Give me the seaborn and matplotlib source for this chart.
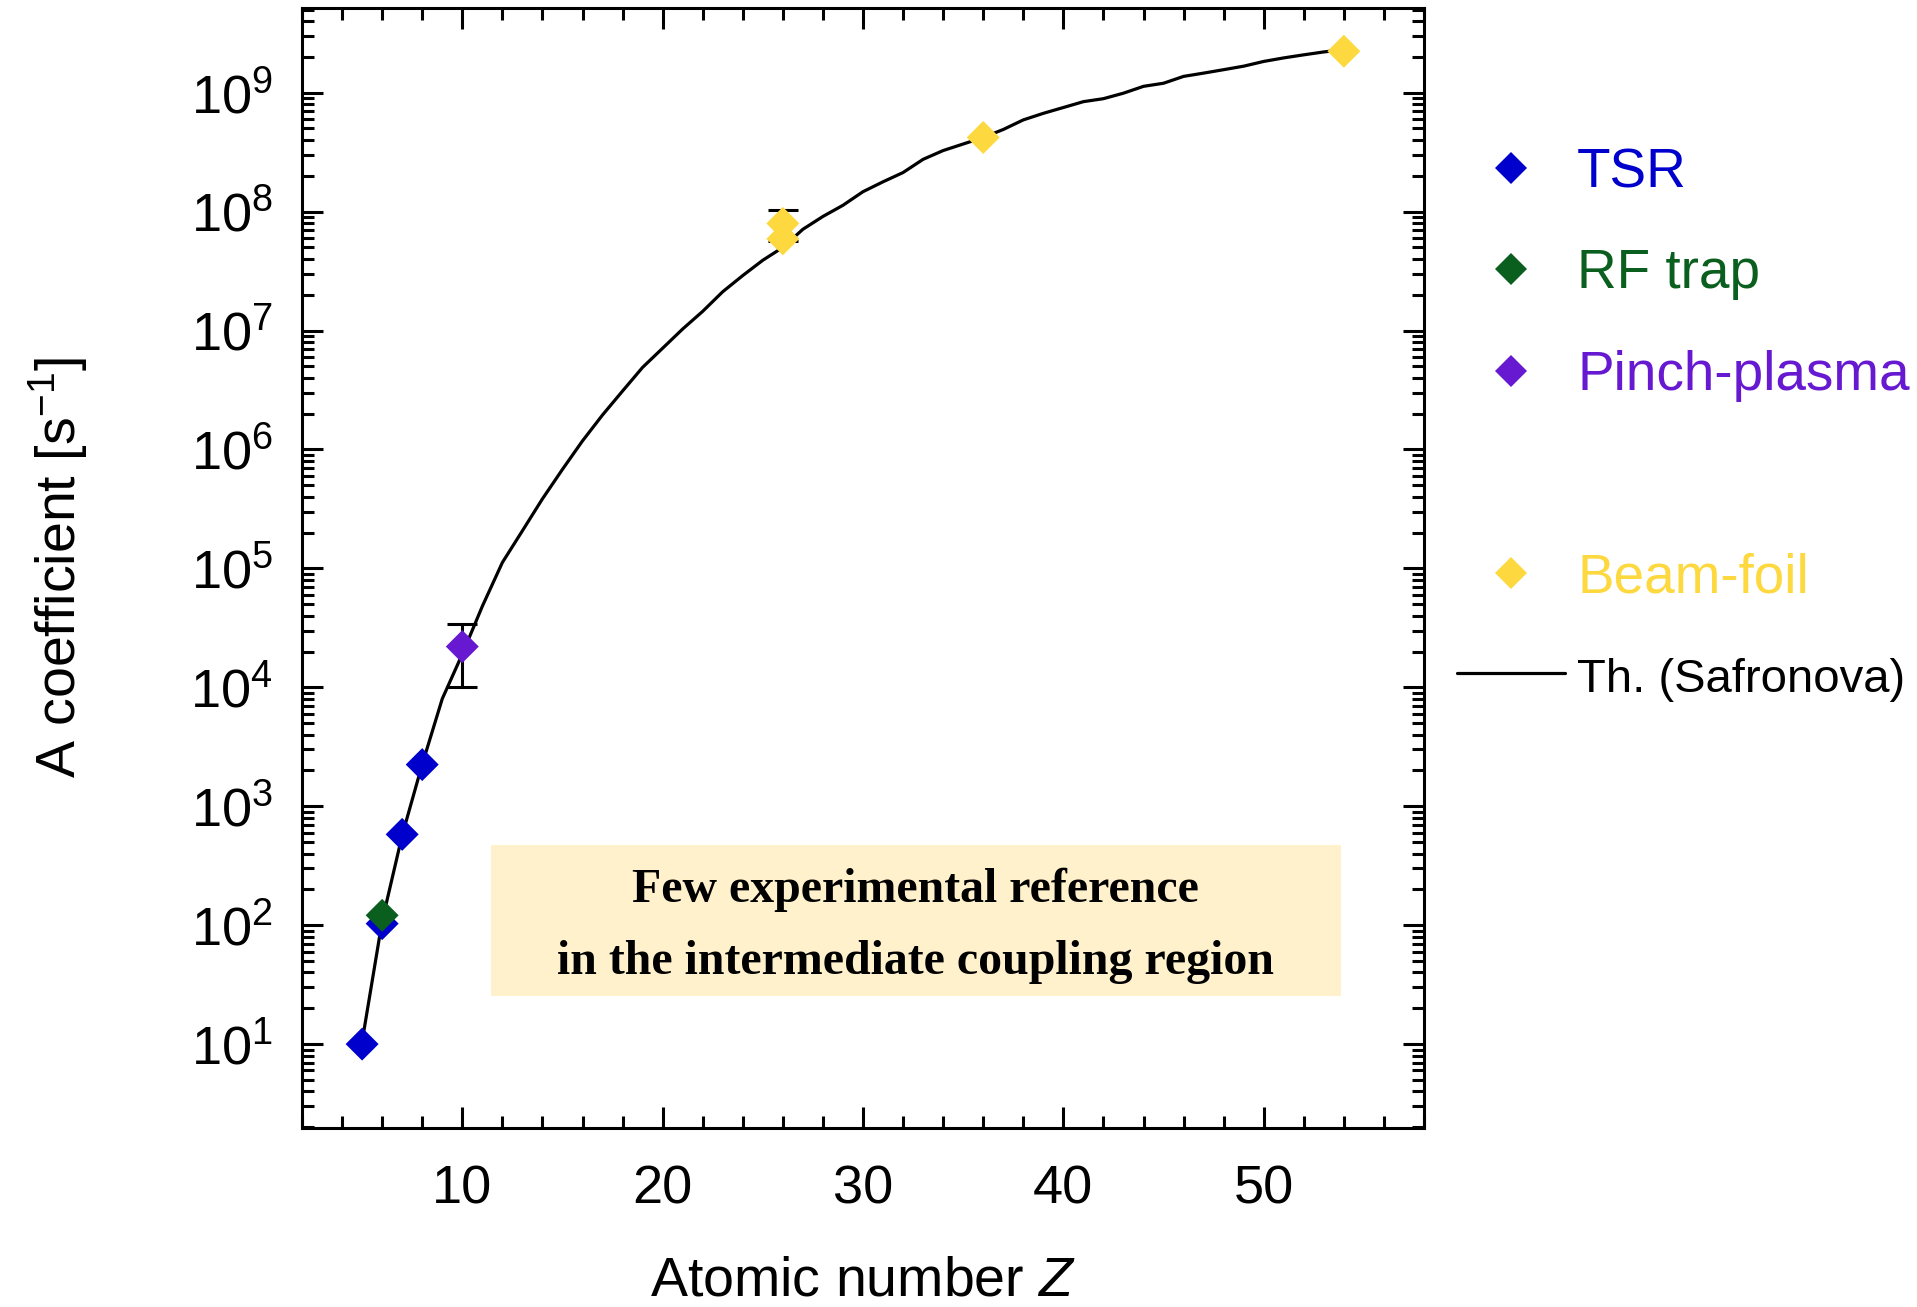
import matplotlib
matplotlib.use("Agg")
import matplotlib.pyplot as plt
import seaborn as sns
import pandas as pd
from matplotlib.lines import Line2D
from matplotlib.patches import Rectangle
from matplotlib.ticker import MultipleLocator, LogLocator, NullFormatter

# ---------------- data ----------------
theory_Z = list(range(5, 55))
theory_A = [10.5, 108, 570, 2250, 8.0e3, 1.9e4, 4.8e4, 1.12e5, 2.07e5, 3.84e5,
            6.8e5, 1.18e6, 1.95e6, 3.1e6, 4.9e6, 7.1e6, 1.03e7, 1.45e7, 2.12e7, 2.9e7,
            3.9e7, 5.0e7, 7.1e7, 9.1e7, 1.13e8, 1.47e8, 1.78e8, 2.13e8, 2.75e8, 3.26e8,
            3.7e8, 4.2e8, 4.9e8, 5.9e8, 6.7e8, 7.5e8, 8.4e8, 8.9e8, 9.9e8, 1.13e9,
            1.2e9, 1.37e9, 1.46e9, 1.56e9, 1.67e9, 1.83e9, 1.96e9, 2.08e9, 2.2e9, 2.3e9]

tsr_Z = [5, 6, 7, 8]
tsr_A = [10.0, 103, 580, 2240]

rf_Z = [6]
rf_A = [121]

pinch_Z = [10]
pinch_A = [2.2e4]
pinch_err = [1.2e4]

beam_Z = [26, 26, 36, 54]
beam_A = [7.95e7, 5.9e7, 4.2e8, 2.23e9]
beam_err = [2.3e7, 0, 0, 0]

methods = ["TSR", "RF trap", "Pinch-plasma", "Beam-foil"]
colors = {"TSR": "#0000CC", "RF trap": "#0A5F1E", "Pinch-plasma": "#6619D1", "Beam-foil": "#FDD83F"}
theory_label = "Th. (Safronova)"

xlabel_text = "Atomic number $Z$"
ylabel_text = "A coefficient [s$^{-1}$]"
note_lines = ["Few experimental reference", "in the intermediate coupling region"]

# ---------------- style ----------------
sns.set_theme(style="ticks")
plt.rcParams["font.family"] = ["Liberation Sans", "DejaVu Sans"]
plt.rcParams["mathtext.fontset"] = "custom"
plt.rcParams["mathtext.rm"] = "Liberation Sans"
plt.rcParams["mathtext.it"] = "Liberation Sans:italic"
plt.rcParams["mathtext.bf"] = "Liberation Sans:bold"
plt.rcParams["axes.linewidth"] = 2.2
plt.rcParams["text.color"] = "black"
plt.rcParams["axes.labelcolor"] = "black"
plt.rcParams["xtick.color"] = "black"
plt.rcParams["ytick.color"] = "black"
plt.rcParams["axes.edgecolor"] = "black"

fig = plt.figure(figsize=(19.17, 13.07), dpi=100)
ax = fig.add_axes([302 / 1917, 1 - 1128 / 1307, (1424 - 302) / 1917, (1128 - 7.5) / 1307])
ax.set_yscale("log")

df = pd.DataFrame({
    "Z": tsr_Z + rf_Z + pinch_Z + beam_Z,
    "A": tsr_A + rf_A + pinch_A + beam_A,
    "method": (["TSR"] * len(tsr_Z) + ["RF trap"] * len(rf_Z)
               + ["Pinch-plasma"] * len(pinch_Z) + ["Beam-foil"] * len(beam_Z)),
})

sns.lineplot(x=theory_Z, y=theory_A, color="black", linewidth=2.3, ax=ax, zorder=2)

# error bars
ax.errorbar(pinch_Z, pinch_A, yerr=pinch_err, fmt="none", ecolor="black",
            elinewidth=2.2, capsize=11, capthick=2.2, zorder=3)
bz = [z for z, e in zip(beam_Z, beam_err) if e > 0]
ba = [a for a, e in zip(beam_A, beam_err) if e > 0]
be = [e for e in beam_err if e > 0]
ax.errorbar(bz, ba, yerr=be, fmt="none", ecolor="black",
            elinewidth=2.2, capsize=11, capthick=2.2, zorder=3)

sns.scatterplot(data=df, x="Z", y="A", hue="method", hue_order=methods,
                palette=colors, marker="D", s=282, linewidth=0, legend=False,
                ax=ax, zorder=4)

ax.set_xlim(2, 58)
ax.set_ylim(1.97, 5.2e9)
ax.xaxis.set_major_locator(MultipleLocator(10))
ax.xaxis.set_minor_locator(MultipleLocator(2))
ax.yaxis.set_major_locator(LogLocator(base=10, numticks=20))
ax.yaxis.set_minor_locator(LogLocator(base=10, subs=[2, 3, 4, 5, 6, 7, 8, 9], numticks=20))
ax.yaxis.set_minor_formatter(NullFormatter())

ax.tick_params(which="both", direction="in", top=True, right=True, width=2.2,
               color="black", labelcolor="black")
ax.tick_params(which="major", length=15)
ax.tick_params(which="minor", length=8.5)
ax.tick_params(axis="x", which="major", labelsize=39, pad=26)
ax.tick_params(axis="y", which="major", labelsize=39, pad=21)
for s in ax.spines.values():
    s.set_color("black")
    s.set_linewidth(2.2)

ax.set_xlabel(xlabel_text, fontsize=40, color="black")
ax.set_ylabel(ylabel_text, fontsize=40, color="black")
ax.xaxis.set_label_coords(0.5, -0.1135)
ax.yaxis.set_label_coords(-0.189, 0.5)

# annotation box
ax.add_patch(Rectangle((0.1684, 0.1178), 0.926 - 0.1684, 0.2526 - 0.1178,
                       transform=ax.transAxes, facecolor="#FFF1CC", edgecolor="none", zorder=1))
ax.text(0.547, 0.2017, note_lines[0], transform=ax.transAxes, ha="center", va="baseline",
        fontsize=34.5, fontweight="bold", family="Liberation Serif", color="black", zorder=5)
ax.text(0.547, 0.1374, note_lines[1], transform=ax.transAxes, ha="center", va="baseline",
        fontsize=34.5, fontweight="bold", family="Liberation Serif", color="black", zorder=5)

# legend
handles = []
labels = []
for m in methods[:3]:
    handles.append(Line2D([0], [0], marker="D", color="none", markerfacecolor=colors[m],
                          markeredgewidth=0, markersize=16.8))
    labels.append(m)
handles.append(Line2D([0], [0], color="none"))
labels.append(" ")
handles.append(Line2D([0], [0], marker="D", color="none", markerfacecolor=colors["Beam-foil"],
                      markeredgewidth=0, markersize=16.8))
labels.append("Beam-foil")
handles.append(Line2D([0], [0], color="black", linewidth=2.3))
labels.append(theory_label)

leg = ax.legend(handles, labels, loc="upper left", bbox_to_anchor=(1457 / 1917, 1 - 147 / 1307),
                bbox_transform=fig.transFigure, frameon=False, fontsize=39.5,
                handlelength=1.97, handletextpad=0.22, labelspacing=0.90,
                borderpad=0, borderaxespad=0)
text_colors = [colors["TSR"], colors["RF trap"], colors["Pinch-plasma"], "black",
               colors["Beam-foil"], "black"]
for t, c in zip(leg.get_texts(), text_colors):
    t.set_color(c)
leg.get_texts()[-1].set_fontsize(34)

fig.savefig("out.png", dpi=100)
